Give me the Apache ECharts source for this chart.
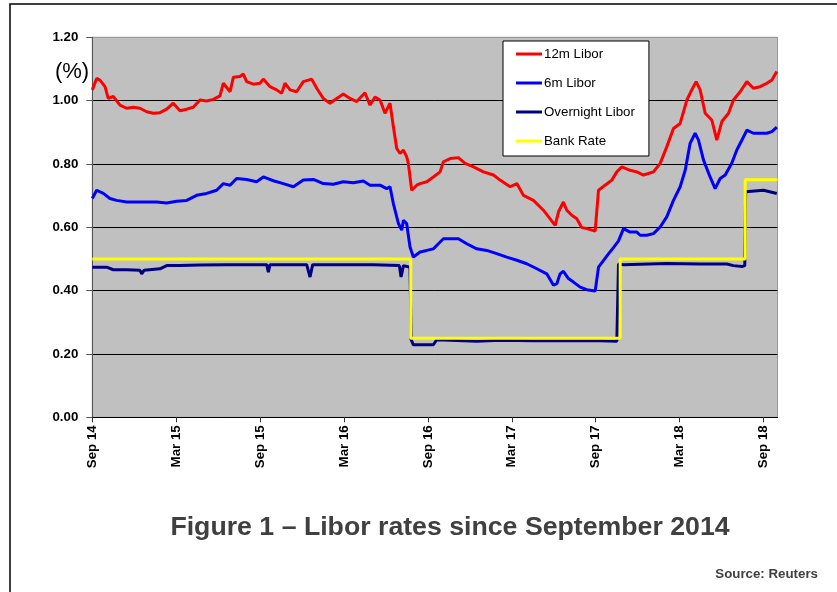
<!DOCTYPE html>
<html><head><meta charset="utf-8">
<script src="https://cdn.jsdelivr.net/npm/echarts@6/dist/echarts.min.js"></script>
<style>html,body{margin:0;padding:0;background:#fff}#chart{width:837px;height:592px}</style>
</head><body><div id="chart"></div>
<script>
// x positions are months since September 2014
const tickLabels = ['Sep 14','Mar 15','Sep 15','Mar 16','Sep 16','Mar 17','Sep 17','Mar 18','Sep 18'];

const months12 = [0, 0.31, 0.55, 0.91, 1.14, 1.50, 1.98, 2.46, 2.93, 3.41,
  3.89, 4.36, 4.84, 5.32, 5.79, 6.27, 6.75, 7.22, 7.70, 8.18,
  8.66, 9.13, 9.37, 9.85, 10.09, 10.56, 10.80, 11.04, 11.52, 11.99,
  12.23, 12.71, 13.18, 13.54, 13.78, 14.14, 14.61, 15.09, 15.69, 16.05,
  16.52, 17.00, 17.48, 17.95, 18.43, 18.91, 19.50, 19.86, 20.22, 20.58,
  20.93, 21.29, 21.53, 21.77, 22.01, 22.25, 22.48, 22.60, 22.84, 23.20,
  23.44, 23.92, 24.39, 24.87, 25.11, 25.59, 26.18, 26.66, 27.26, 27.97,
  28.69, 29.16, 29.88, 30.36, 30.83, 31.55, 32.26, 33.10, 33.34, 33.69,
  33.93, 34.29, 34.65, 35.00, 35.36, 35.96, 36.20, 36.67, 37.15, 37.51,
  37.87, 38.46, 38.94, 39.42, 40.13, 40.61, 41.08, 41.56, 42.04, 42.52,
  42.87, 43.18, 43.47, 43.83, 44.30, 44.66, 45.02, 45.50, 45.85, 46.33,
  46.81, 47.28, 47.76, 48.24, 48.60, 48.95];
const libor12m = [1.034, 1.07, 1.065, 1.044, 1.007, 1.013, 0.986, 0.976, 0.979, 0.976,
  0.965, 0.96, 0.962, 0.973, 0.992, 0.968, 0.973, 0.979, 1.002, 0.999,
  1.004, 1.015, 1.055, 1.028, 1.074, 1.076, 1.084, 1.06, 1.052, 1.055,
  1.068, 1.044, 1.034, 1.023, 1.055, 1.034, 1.028, 1.06, 1.068, 1.039,
  1.007, 0.992, 1.007, 1.021, 1.007, 0.997, 1.025, 0.986, 1.011, 1.002,
  0.96, 0.992, 0.918, 0.849, 0.833, 0.844, 0.823, 0.802, 0.717, 0.733,
  0.738, 0.744, 0.759, 0.775, 0.807, 0.817, 0.82, 0.802, 0.791, 0.775,
  0.765, 0.749, 0.728, 0.738, 0.701, 0.685, 0.654, 0.606, 0.649, 0.68,
  0.654, 0.638, 0.627, 0.599, 0.596, 0.588, 0.717, 0.733, 0.749, 0.775,
  0.791, 0.78, 0.775, 0.765, 0.775, 0.802, 0.854, 0.912, 0.928, 1.002,
  1.034, 1.06, 1.034, 0.96, 0.939, 0.875, 0.934, 0.96, 1.002, 1.028,
  1.06, 1.039, 1.044, 1.055, 1.065, 1.092];

const months6 = [0, 0.31, 0.79, 1.26, 1.74, 2.46, 3.17, 3.89, 4.60, 5.32,
  6.03, 6.75, 7.46, 8.18, 8.89, 9.37, 9.85, 10.32, 11.04, 11.75,
  12.23, 12.95, 13.66, 14.38, 15.09, 15.81, 16.52, 17.24, 17.95, 18.67,
  19.38, 19.86, 20.58, 21.05, 21.29, 21.53, 21.89, 22.13, 22.25, 22.48,
  22.72, 22.96, 23.44, 23.92, 24.39, 24.75, 25.11, 25.59, 26.18, 26.78,
  27.49, 28.21, 28.92, 29.64, 30.36, 31.07, 31.79, 32.50, 32.98, 33.22,
  33.45, 33.69, 34.05, 34.41, 34.89, 35.36, 35.96, 36.20, 36.55, 36.91,
  37.27, 37.63, 37.99, 38.46, 38.94, 39.18, 39.65, 40.13, 40.61, 41.08,
  41.56, 42.04, 42.40, 42.75, 43.11, 43.35, 43.71, 44.18, 44.54, 44.90,
  45.26, 45.73, 46.09, 46.45, 46.81, 47.28, 47.76, 48.24, 48.60, 48.95];
const libor6m = [0.691, 0.717, 0.707, 0.691, 0.685, 0.68, 0.68, 0.68, 0.68, 0.677,
  0.682, 0.685, 0.701, 0.707, 0.717, 0.738, 0.733, 0.754, 0.751, 0.744,
  0.759, 0.747, 0.738, 0.728, 0.749, 0.751, 0.738, 0.736, 0.744, 0.741,
  0.746, 0.733, 0.733, 0.722, 0.728, 0.675, 0.612, 0.591, 0.622, 0.612,
  0.538, 0.506, 0.522, 0.527, 0.532, 0.548, 0.564, 0.564, 0.564, 0.548,
  0.532, 0.527, 0.517, 0.506, 0.496, 0.485, 0.469, 0.453, 0.417, 0.422,
  0.453, 0.461, 0.438, 0.427, 0.411, 0.403, 0.399, 0.474, 0.495, 0.516,
  0.536, 0.557, 0.596, 0.585, 0.585, 0.575, 0.575, 0.58, 0.601, 0.633,
  0.685, 0.728, 0.78, 0.865, 0.897, 0.875, 0.812, 0.759, 0.722, 0.754,
  0.765, 0.802, 0.844, 0.875, 0.907, 0.897, 0.897, 0.897, 0.902, 0.916];

const monthsON = [0, 1.03, 1.50, 2.46, 3.41, 3.53, 3.70, 4.84, 5.32, 6.27,
  7.70, 9.61, 12.47, 12.59, 12.71, 15.33, 15.57, 15.76, 17.72, 20.10,
  21.96, 22.08, 22.25, 22.72, 22.80, 22.96, 24.39, 24.63, 27.49, 29.16,
  31.55, 33.93, 36.32, 37.51, 37.63, 37.99, 41.08, 43.47, 45.38, 45.85,
  46.45, 46.66, 46.72, 48.00, 48.95];
const overnight = [0.474, 0.474, 0.466, 0.466, 0.464, 0.453, 0.464, 0.469, 0.479, 0.479,
  0.481, 0.482, 0.482, 0.458, 0.482, 0.482, 0.443, 0.482, 0.482, 0.482,
  0.479, 0.443, 0.479, 0.474, 0.245, 0.229, 0.229, 0.245, 0.24, 0.243,
  0.242, 0.242, 0.242, 0.24, 0.484, 0.482, 0.486, 0.484, 0.484, 0.479,
  0.476, 0.479, 0.712, 0.717, 0.707];

const monthsBank = [0, 22.77, 37.75, 46.69, 49.0];
const bankRate = [0.5, 0.25, 0.5, 0.75, 0.75];

const FONT = '"Liberation Sans", Arial, sans-serif';
function pairs(xs, ys) { return xs.map((x, i) => [x, ys[i]]); }

const chart = echarts.init(document.getElementById('chart'), null, {renderer: 'canvas'});
chart.setOption({
  animation: false,
  backgroundColor: '#ffffff',
  textStyle: {fontFamily: FONT},
  grid: {left: 92.3, top: 37.3, right: 59.5, bottom: 174.7, show: true,
    backgroundColor: '#C0C0C0', borderColor: '#999999', borderWidth: 1},
  xAxis: {
    type: 'value', min: 0, max: 49, interval: 6,
    axisLine: {show: true, lineStyle: {color: '#000', width: 1}},
    axisTick: {show: true, length: 5, lineStyle: {color: '#333'}},
    splitLine: {show: false},
    axisLabel: {
      rotate: 90, margin: 8, fontSize: 13.3, fontWeight: 'bold', color: '#000', fontFamily: FONT,
      showMaxLabel: false,
      formatter: function (v) {
        const k = Math.round(v / 6);
        return Math.abs(v - k * 6) < 1e-6 ? (tickLabels[k] || '') : '';
      }
    }
  },
  yAxis: {
    type: 'value', min: 0, max: 1.2, interval: 0.2,
    axisLine: {show: true, lineStyle: {color: '#555', width: 1}},
    axisTick: {show: true, length: 6, lineStyle: {color: '#555'}},
    splitLine: {show: true, lineStyle: {color: ['#000','#000','#000','#000','#000','#000','#999'], width: 1}},
    axisLabel: {formatter: v => v.toFixed(2), fontSize: 13.3, fontWeight: 'bold', color: '#000', margin: 14, fontFamily: FONT}
  },
  legend: {
    orient: 'vertical', left: 503, top: 41,
    padding: [5, 14, 7, 13], itemGap: 13, itemWidth: 26, itemHeight: 3, icon: 'rect',
    backgroundColor: '#ffffff', borderColor: '#000', borderWidth: 1,
    textStyle: {fontSize: 13.3, lineHeight: 16, color: '#000', fontFamily: FONT, padding: [0, 0, 0, -3]},
    data: ['12m Libor', '6m Libor', 'Overnight Libor', 'Bank Rate']
  },
  graphic: [
    {type: 'rect', silent: true, z: 100, shape: {x: 10, y: 4, width: 900, height: 700},
      style: {fill: 'none', stroke: '#000', lineWidth: 1.5}},
    {type: 'text', silent: true, z: 100, style: {text: '(%)', x: 72, y: 72, align: 'center', verticalAlign: 'middle',
      fontSize: 22, fontFamily: FONT, fill: '#000'}},
    {type: 'text', silent: true, z: 100, style: {text: 'Figure 1 \u2013 Libor rates since September 2014', x: 450, y: 528,
      align: 'center', verticalAlign: 'middle', fontSize: 26.7, fontWeight: 'bold', fontFamily: FONT, fill: '#404040'}},
    {type: 'text', silent: true, z: 100, style: {text: 'Source: Reuters', x: 818, y: 574,
      align: 'right', verticalAlign: 'middle', fontSize: 13.3, fontWeight: 'bold', fontFamily: FONT, fill: '#404040'}}
  ],
  series: [
    {name: '12m Libor', type: 'line', data: pairs(months12, libor12m), symbol: 'none', showSymbol: false,
      lineStyle: {color: '#FF0000', width: 3}, itemStyle: {color: '#FF0000'}},
    {name: '6m Libor', type: 'line', data: pairs(months6, libor6m), symbol: 'none', showSymbol: false,
      lineStyle: {color: '#0000FF', width: 3}, itemStyle: {color: '#0000FF'}},
    {name: 'Overnight Libor', type: 'line', data: pairs(monthsON, overnight), symbol: 'none', showSymbol: false,
      lineStyle: {color: '#000080', width: 3}, itemStyle: {color: '#000080'}},
    {name: 'Bank Rate', type: 'line', step: 'end', data: pairs(monthsBank, bankRate), symbol: 'none', showSymbol: false,
      lineStyle: {color: '#FFFF00', width: 3}, itemStyle: {color: '#FFFF00'}}
  ]
});
</script>
</body></html>
